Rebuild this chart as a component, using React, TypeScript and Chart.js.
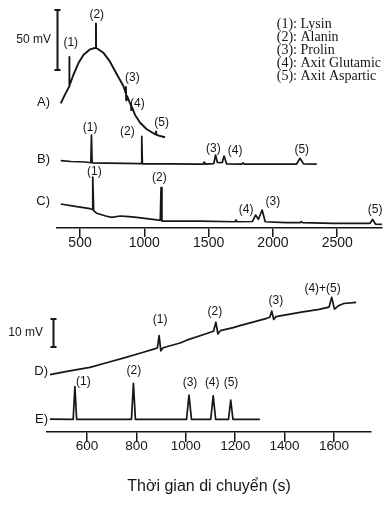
import React, { useEffect, useRef } from "react";
import { Chart, registerables } from "chart.js";
Chart.register(...registerables);

type Pt = [number, number];
type Label = [number, number, string];

// ---------- Top panel (A, B, C): migration time (s) vs signal (mV, traces offset) ----------
const topTicks = [500, 1000, 1500, 2000, 2500];

const traceA: Pt[] = [
  [350, 103.9], [380, 110.5], [416, 118.0], [417, 142.5], [418, 118.5], [448, 127.5],
  [487, 137.2], [526, 144.2], [578, 148.9], [623, 150.2], [624, 170.5], [625, 150.2],
  [681, 146.1], [733, 138.6], [785, 128.3], [837, 118.3], [855, 112.5], [857, 117.5],
  [859, 106.5], [862, 110.5], [868, 109.4], [894, 102.5], [896, 103.5], [898, 98.3],
  [900, 101.5], [928, 94.2], [967, 87.75], [1019, 82.25], [1083, 78.1], [1090, 80.5],
  [1097, 77.4], [1161, 75.6],
];

const traceB: Pt[] = [
  [350, 56.1], [430, 55.4], [540, 55.0], [584, 54.4], [589, 77.5], [594, 54.3],
  [700, 54.0], [850, 53.8], [975, 53.6], [980, 76.3], [985, 53.5], [1200, 53.4],
  [1400, 53.3], [1458, 53.3], [1464, 54.8], [1470, 53.3], [1540, 53.6], [1554, 60.8],
  [1568, 54.6], [1581, 54.4], [1606, 54.6], [1620, 60.0], [1640, 53.4], [1760, 53.3],
  [1768, 54.3], [1776, 53.3], [1900, 53.2], [2184, 53.3], [2211, 58.1], [2238, 53.4],
  [2341, 53.3],
];

const traceC: Pt[] = [
  [350, 20.0], [450, 18.3], [578, 16.1], [594, 15.5], [599, 42.5], [606, 14.5],
  [630, 12.25], [700, 10.0], [747, 8.9], [811, 10.0], [880, 9.4], [941, 8.9],
  [1097, 6.7], [1124, 6.3], [1130, 33.75], [1137, 5.8], [1433, 5.8], [1705, 5.2],
  [1713, 6.7], [1721, 5.2], [1840, 5.4], [1865, 10.8], [1887, 7.25], [1916, 15.0],
  [1940, 5.2], [2100, 4.4], [2211, 4.4], [2220, 5.3], [2230, 4.4], [2468, 3.9],
  [2755, 3.9], [2775, 7.1], [2797, 3.3], [2847, 3.1],
];

const topPeakLabels: Label[] = [
  [428, 154.75, "(1)"], [630, 177.5, "(2)"], [907, 125.6, "(3)"], [946, 103.9, "(4)"], [1135, 87.75, "(5)"],
  [578, 83.9, "(1)"], [868, 80.25, "(2)"], [1537, 65.8, "(3)"], [1706, 64.2, "(4)"], [2224, 65.6, "(5)"],
  [611, 46.9, "(1)"], [1117, 42.25, "(2)"], [1791, 15.6, "(4)"], [1999, 21.7, "(3)"], [2794, 15.6, "(5)"],
];
const topTraceNames: Label[] = [[267, 105, "A)"], [267, 57.5, "B)"], [267, 22.5, "C)"]];
const topScaleBar = { x: 323.5, from: 131.7, to: 181.7, text: "50 mV", textX: 274 };

const legendItems = [
  "(1): Lysin",
  "(2): Alanin",
  "(3): Prolin",
  "(4): Axit Glutamic",
  "(5): Axit Aspartic",
];
const legendAnchor: Pt = [2030, 169.75];

// ---------- Bottom panel (D, E) ----------
const bottomTicks = [600, 800, 1000, 1200, 1400, 1600];
const bottomTitle = "Thời gian di chuyển (s)";

const traceD: Pt[] = [
  [450, 20.5], [530, 21.8], [612, 23.1], [690, 25.0], [747, 26.4], [828, 28.5],
  [870, 29.6], [885, 30.0], [892, 34.4], [899, 29.0], [908, 30.1], [977, 31.8],
  [1004, 32.8], [1085, 35.2], [1112, 36.0], [1122, 39.2], [1130, 35.0], [1140, 36.2],
  [1192, 37.3], [1219, 38.0], [1328, 40.6], [1340, 41.0], [1348, 43.2], [1356, 40.2],
  [1365, 41.2], [1462, 42.7], [1540, 43.8], [1580, 44.6], [1591, 48.1], [1602, 43.9],
  [1620, 45.2], [1640, 45.9], [1690, 46.3],
];

const traceE: Pt[] = [
  [450, 4.6], [544, 4.5], [551, 16.2], [558, 4.5], [780, 4.5], [788, 17.4], [796, 4.5],
  [1003, 4.5], [1013, 13.2], [1023, 4.5], [1101, 4.5], [1111, 12.9], [1121, 4.5],
  [1173, 4.5], [1182, 11.4], [1191, 4.5], [1300, 4.5],
];

const bottomPeakLabels: Label[] = [
  [896, 40.25, "(1)"], [1118, 43.0, "(2)"], [1365, 46.8, "(3)"], [1554, 51.1, "(4)+(5)"],
  [585, 18.0, "(1)"], [790, 21.8, "(2)"], [1017, 17.6, "(3)"], [1107, 17.6, "(4)"], [1183, 17.6, "(5)"],
];
const bottomTraceNames: Label[] = [[442, 21.8, "D)"], [442, 4.6, "E)"]];
const bottomScaleBar = { x: 461, from: 30.4, to: 40.4, text: "10 mV", textX: 422 };

// ---------- rendering helpers ----------
const SANS = '"Liberation Sans", Arial, sans-serif';
const SERIF = '"Liberation Serif", "Times New Roman", serif';
const INK = "#161616";

function notesPlugin(
  peaks: Label[],
  names: Label[],
  bar: { x: number; from: number; to: number; text: string; textX: number },
  legend?: { items: string[]; anchor: Pt }
) {
  return {
    id: "notes",
    afterDatasetsDraw(chart: any) {
      const { ctx } = chart;
      const xs = chart.scales.x;
      const ys = chart.scales.y;
      ctx.save();
      ctx.fillStyle = INK;
      ctx.strokeStyle = INK;
      ctx.textBaseline = "middle";
      ctx.textAlign = "center";
      ctx.font = `12px ${SANS}`;
      for (const [vx, vy, t] of peaks) ctx.fillText(t, xs.getPixelForValue(vx), ys.getPixelForValue(vy));
      ctx.textAlign = "right";
      ctx.font = `13px ${SANS}`;
      for (const [vx, vy, t] of names) ctx.fillText(t, xs.getPixelForValue(vx), ys.getPixelForValue(vy));
      // scale bar
      const bx = Math.round(xs.getPixelForValue(bar.x)) + 0.5;
      const b1 = ys.getPixelForValue(bar.from);
      const b2 = ys.getPixelForValue(bar.to);
      ctx.lineWidth = 2;
      ctx.beginPath();
      ctx.moveTo(bx, b1);
      ctx.lineTo(bx, b2);
      ctx.moveTo(bx - 3, b1);
      ctx.lineTo(bx + 3, b1);
      ctx.moveTo(bx - 3, b2);
      ctx.lineTo(bx + 3, b2);
      ctx.stroke();
      ctx.font = `12px ${SANS}`;
      ctx.fillText(bar.text, xs.getPixelForValue(bar.textX), (b1 + b2) / 2);
      if (legend) {
        ctx.textAlign = "left";
        ctx.font = `14px ${SERIF}`;
        const lx = xs.getPixelForValue(legend.anchor[0]);
        const ly = ys.getPixelForValue(legend.anchor[1]);
        legend.items.forEach((t, i) => ctx.fillText(t, lx, ly + i * 13));
      }
      ctx.restore();
    },
  };
}

function lineSet(pts: Pt[], width = 1.7) {
  return {
    data: pts.map(([x, y]) => ({ x, y })),
    borderColor: INK,
    borderWidth: width,
    pointRadius: 0,
    fill: false,
    tension: 0,
    borderJoinStyle: "round" as const,
  };
}

function xAxis(min: number, max: number, ticks: number[], height: number, fontSize: number, tickLen: number, pad: number, title?: string) {
  return {
    type: "linear" as const,
    min,
    max,
    afterBuildTicks: (s: any) => {
      s.ticks = ticks.map((v) => ({ value: v }));
    },
    afterFit: (s: any) => {
      s.height = height;
    },
    border: { display: true, color: INK, width: 1.5 },
    grid: { display: true, drawOnChartArea: false, drawTicks: true, tickLength: tickLen, color: INK, lineWidth: 1.5 },
    ticks: {
      color: INK,
      font: { family: SANS, size: fontSize },
      padding: pad,
      maxRotation: 0,
      autoSkip: false,
      callback: (v: any) => String(v),
    },
    title: title
      ? { display: true, text: title, color: INK, font: { family: SANS, size: 16 }, padding: { top: 0, bottom: 10 } }
      : { display: false },
  };
}

export default function App() {
  const topRef = useRef<HTMLCanvasElement>(null);
  const botRef = useRef<HTMLCanvasElement>(null);

  useEffect(() => {
    const top = new Chart(topRef.current!, {
      type: "line",
      data: { datasets: [lineSet(traceA, 1.9), lineSet(traceB), lineSet(traceC)] },
      options: {
        responsive: false,
        animation: false,
        layout: { padding: { left: 57, right: 2, top: 0, bottom: 0 } },
        plugins: { legend: { display: false }, tooltip: { enabled: false } },
        scales: {
          x: xAxis(321, 2848, topTicks, 32, 14, 9, -2),
          y: { type: "linear", display: false, min: 0, max: 190 },
        },
      },
      plugins: [notesPlugin(topPeakLabels, topTraceNames, topScaleBar, { items: legendItems, anchor: legendAnchor })],
    } as any);

    const bottom = new Chart(botRef.current!, {
      type: "line",
      data: { datasets: [lineSet(traceD), lineSet(traceE)] },
      options: {
        responsive: false,
        animation: false,
        layout: { padding: { left: 47, right: 13, top: 0, bottom: 0 } },
        plugins: { legend: { display: false }, tooltip: { enabled: false } },
        scales: {
          x: xAxis(438, 1750, bottomTicks, 74, 13.5, 10, -4, bottomTitle),
          y: { type: "linear", display: false, min: 0, max: 172 / 2.8 },
        },
      },
      plugins: [notesPlugin(bottomPeakLabels, bottomTraceNames, bottomScaleBar)],
    } as any);

    return () => {
      top.destroy();
      bottom.destroy();
    };
  }, []);

  return (
    <div style={{ position: "absolute", left: 0, top: 0, width: 384, height: 506, background: "#fff", overflow: "hidden" }}>
      <canvas ref={topRef} width={384} height={260} style={{ position: "absolute", left: 0, top: 0, width: 384, height: 260 }} />
      <canvas ref={botRef} width={384} height={246} style={{ position: "absolute", left: 0, top: 260, width: 384, height: 246 }} />
    </div>
  );
}
